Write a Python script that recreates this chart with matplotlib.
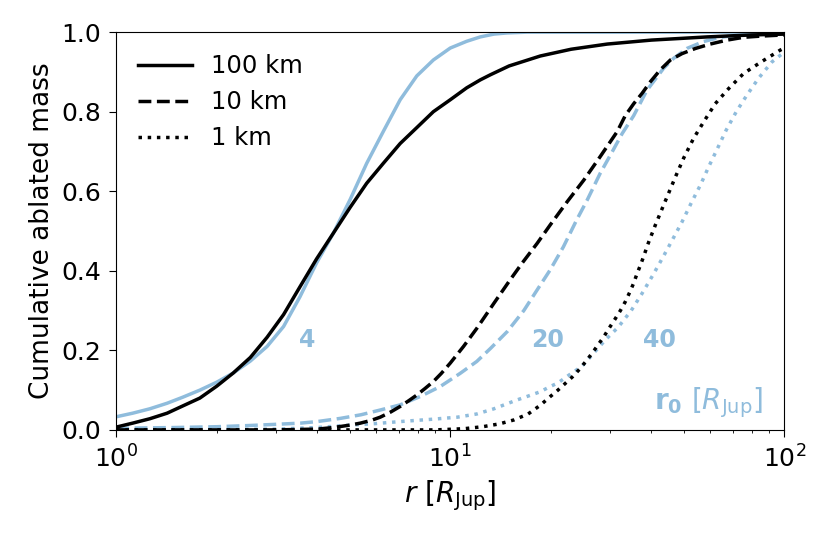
import matplotlib
matplotlib.use("Agg")
import matplotlib.pyplot as plt

# curves (r in R_Jup, cumulative ablated mass)
r_solid_k = [1.0, 1.12, 1.26, 1.42, 1.58, 1.78, 2.0, 2.24, 2.52, 2.83, 3.17, 3.55, 3.98, 4.47, 5.02,
             5.62, 6.3, 7.08, 7.94, 8.9, 10.0, 11.2, 12.3, 13.2, 15.0, 18.6, 23.0, 29.5, 40.0, 58.8, 80.0, 100.0]
m_solid_k = [0.007, 0.017, 0.028, 0.042, 0.06, 0.08, 0.11, 0.143, 0.182, 0.233, 0.29, 0.36, 0.43, 0.495, 0.56,
             0.62, 0.67, 0.72, 0.76, 0.80, 0.83, 0.86, 0.88, 0.893, 0.915, 0.94, 0.957, 0.97, 0.98, 0.988, 0.993, 0.995]

r_solid_b = [1.0, 1.12, 1.26, 1.42, 1.58, 1.78, 2.0, 2.24, 2.52, 2.83, 3.17, 3.55, 3.98, 4.47, 5.02,
             5.62, 6.3, 7.08, 7.94, 8.9, 10.0, 11.2, 12.3, 13.5, 14.8, 17.0, 20.0, 100.0]
m_solid_b = [0.033, 0.042, 0.053, 0.067, 0.082, 0.10, 0.12, 0.143, 0.173, 0.21, 0.26, 0.335, 0.42, 0.495, 0.58,
             0.67, 0.75, 0.83, 0.89, 0.93, 0.96, 0.977, 0.988, 0.995, 0.998, 1.0, 1.0, 1.0]

r_dash_k = [1.0, 3.0, 4.0, 4.47, 5.0, 5.38, 5.8, 6.17, 6.6, 7.08, 7.5, 7.95, 8.4, 8.91, 9.4, 10.0, 10.96,
            12.0, 13.5, 15.1, 16.4, 18.2, 19.9, 22.4, 25.1, 28.1, 31.6, 33.4, 35.4, 37.5, 39.7, 42.5,
            45.6, 49.4, 54.2, 60.0, 67.4, 75.5, 85.0, 100.0]
m_dash_k = [0.0, 0.0, 0.002, 0.006, 0.012, 0.017, 0.024, 0.032, 0.044, 0.059, 0.073, 0.088, 0.104, 0.122, 0.142, 0.168, 0.21,
            0.255, 0.318, 0.377, 0.419, 0.469, 0.515, 0.574, 0.628, 0.687, 0.75, 0.79, 0.82, 0.846, 0.875, 0.905,
            0.93, 0.946, 0.959, 0.97, 0.98, 0.987, 0.99, 0.993]

r_dash_b = [1.0, 1.5, 2.0, 2.5, 3.0, 3.56, 4.0, 4.69, 5.4, 6.17, 7.08, 8.13, 9.33, 10.7, 12.0, 13.2, 14.8,
            16.6, 18.2, 19.9, 21.8, 23.9, 25.7, 28.1, 30.8, 32.7, 35.4, 38.8, 43.5, 46.6, 51.1, 57.1,
            64.3, 72.0, 85.0, 100.0]
m_dash_b = [0.004, 0.006, 0.008, 0.011, 0.014, 0.017, 0.021, 0.029, 0.038, 0.05, 0.063, 0.084, 0.109, 0.142, 0.172, 0.205, 0.247,
            0.30, 0.352, 0.402, 0.46, 0.528, 0.578, 0.645, 0.705, 0.745, 0.79, 0.854, 0.909, 0.934, 0.959, 0.976,
            0.987, 0.992, 0.997, 1.0]

r_dot_k = [1.0, 9.0, 11.0, 12.5, 14.0, 15.5, 17.1, 18.6, 19.8, 21.0, 22.1, 23.25, 24.4, 25.5, 26.6, 27.7,
           28.8, 29.9, 31.1, 32.3, 33.4, 34.4, 35.4, 36.2, 37.2, 38.1, 39.0, 41.1, 43.5, 47.2, 50.0,
           53.5, 57.6, 62.1, 68.1, 75.5, 85.2, 97.3, 100.0]
m_dot_k = [0.0, 0.0, 0.003, 0.008, 0.015, 0.025, 0.04, 0.062, 0.082, 0.10, 0.117, 0.134, 0.153, 0.173, 0.193, 0.214,
           0.234, 0.256, 0.278, 0.30, 0.322, 0.345, 0.369, 0.392, 0.417, 0.441, 0.466, 0.515, 0.565, 0.636, 0.684,
           0.733, 0.777, 0.82, 0.858, 0.896, 0.925, 0.955, 0.96]

r_dot_b = [1.0, 3.0, 4.0, 5.0, 6.0, 7.08, 8.9, 10.5, 12.0, 13.5, 15.8, 17.1, 18.6, 19.9, 21.0, 22.5, 24.0,
           25.1, 27.0, 29.1, 31.8, 34.8, 37.5, 40.4, 43.3, 46.1, 49.4, 52.6, 56.1, 59.4, 63.1, 67.0,
           71.8, 77.3, 83.7, 91.8, 100.0]
m_dot_b = [0.0, 0.002, 0.006, 0.012, 0.016, 0.021, 0.027, 0.032, 0.04, 0.053, 0.075, 0.085, 0.096, 0.109, 0.118, 0.136, 0.152,
           0.165, 0.195, 0.226, 0.258, 0.30, 0.343, 0.389, 0.434, 0.476, 0.523, 0.57, 0.616, 0.662, 0.708, 0.754,
           0.80, 0.842, 0.884, 0.925, 0.95]

sizes = ["100 km", "10 km", "1 km"]
r0_labels = ["4", "20", "40"]
r0_pos = [3.74, 19.5, 42.2]

blue = "#8fbcdc"
lw = 2.5

fig = plt.figure(figsize=(8.3, 5.54), dpi=100)
ax = fig.add_axes([0.14, 0.224, 0.805, 0.718])

ax.plot(r_solid_b, m_solid_b, color=blue, lw=lw, ls="-")
ax.plot(r_dash_b, m_dash_b, color=blue, lw=lw, ls="--")
ax.plot(r_dot_b, m_dot_b, color=blue, lw=lw, ls=":")
ax.plot(r_solid_k, m_solid_k, color="k", lw=lw, ls="-", label=sizes[0])
ax.plot(r_dash_k, m_dash_k, color="k", lw=lw, ls="--", label=sizes[1])
ax.plot(r_dot_k, m_dot_k, color="k", lw=lw, ls=":", label=sizes[2])

for lab, xp in zip(r0_labels, r0_pos):
    ax.text(xp, 0.225, lab, color=blue, fontsize=17, fontweight="bold", ha="center", va="center")
ax.text(0.968, 0.068, r"$\mathbf{r_0}$ [$R_{\rm Jup}$]", transform=ax.transAxes,
        color=blue, fontsize=20, ha="right", va="center")

ax.set_xscale("log")
ax.set_xlim(1, 100)
ax.set_ylim(0, 1)
ax.set_yticks([0, 0.2, 0.4, 0.6, 0.8, 1.0])
ax.set_xlabel(r"$r\ [R_{\rm Jup}]$", fontsize=20)
ax.set_ylabel("Cumulative ablated mass", fontsize=19)
ax.tick_params(labelsize=18)
ax.tick_params(which="major", length=5, pad=6)

ax.legend(loc="upper left", frameon=False, fontsize=17.5, handlelength=2.2,
          labelspacing=0.5, borderaxespad=0.5)

fig.savefig("out.png", dpi=100)
